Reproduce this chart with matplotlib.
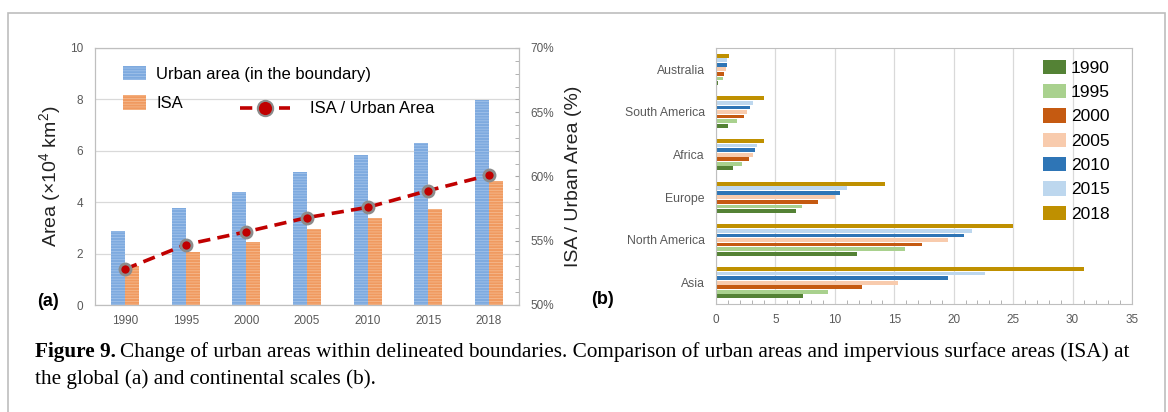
import matplotlib
matplotlib.use("Agg")
import matplotlib.pyplot as plt
import numpy as np
from matplotlib.patches import Patch, Rectangle
from matplotlib.lines import Line2D
from matplotlib.ticker import MultipleLocator, FuncFormatter

plt.rcParams['font.family'] = ['Liberation Sans', 'DejaVu Sans']
plt.rcParams['mathtext.fontset'] = 'custom'
plt.rcParams['mathtext.rm'] = 'Liberation Sans'
plt.rcParams['mathtext.it'] = 'Liberation Sans:italic'
plt.rcParams['mathtext.bf'] = 'Liberation Sans:bold'
plt.rcParams['hatch.linewidth'] = 0.5

# ---- (a) global urban area and ISA ----
years = ["1990", "1995", "2000", "2005", "2010", "2015", "2018"]
urban_area = [2.88, 3.76, 4.41, 5.19, 5.84, 6.32, 7.98]
isa_area = [1.52, 2.07, 2.46, 2.96, 3.37, 3.72, 4.82]
isa_ratio = [52.8, 54.7, 55.7, 56.8, 57.6, 58.9, 60.1]

# ---- (b) continental ISA ----
continents = ["Asia", "North America", "Europe", "Africa", "South America", "Australia"]
isa_1990 = [7.30, 11.84, 6.73, 1.46, 0.98, 0.20]
isa_1995 = [9.43, 15.90, 7.24, 2.21, 1.77, 0.62]
isa_2000 = [12.32, 17.37, 8.56, 2.80, 2.33, 0.70]
isa_2005 = [15.29, 19.50, 10.02, 3.11, 2.61, 0.82]
isa_2010 = [19.56, 20.90, 10.44, 3.31, 2.89, 0.90]
isa_2015 = [22.64, 21.52, 11.00, 3.42, 3.09, 0.95]
isa_2018 = [30.92, 25.03, 14.25, 4.07, 4.04, 1.12]

W, H = 1168, 412
fig = plt.figure(figsize=(W / 100, H / 100), dpi=100)

def px_axes(x0, y0, x1, y1):
    return fig.add_axes([x0 / W, (H - y1) / H, (x1 - x0) / W, (y1 - y0) / H])

# outer frame
fig.patches.append(Rectangle((8 / W, -0.1), (1165 - 8) / W, (H - 13) / H + 0.1,
                             transform=fig.transFigure, fill=False,
                             edgecolor='#bdbdbd', linewidth=1.2))

tick_gray = '#595959'
spine_gray = '#bfbfbf'
grid_gray = '#d9d9d9'

blue_face, blue_hatch = '#7eaadf', '#a7c6ec'
orange_face, orange_hatch = '#f09a60', '#f6bf96'

# ================= panel (a) =================
ax = px_axes(95, 48, 519, 305)
x = np.arange(len(years))
bw = 0.23
ax.bar(x - bw / 2, urban_area, bw, facecolor=blue_face, edgecolor=blue_hatch,
       hatch='------', linewidth=0, zorder=2)
ax.bar(x + bw / 2, isa_area, bw, facecolor=orange_face, edgecolor=orange_hatch,
       hatch='------', linewidth=0, zorder=2)
ax.set_xlim(-0.5, len(years) - 0.5)
ax.set_ylim(0, 10)
ax.set_yticks(range(0, 11, 2))
ax.set_xticks(x)
ax.set_xticklabels(years)
ax.tick_params(axis='both', length=0, labelsize=8.5, colors=tick_gray)
ax.tick_params(axis='x', pad=7)
ax.tick_params(axis='y', pad=8.5)
ax.grid(axis='y', color=grid_gray, linewidth=0.9, zorder=0)
for s in ax.spines.values():
    s.set_color(spine_gray)
ax.set_ylabel('Area (×10$^{4}$ km$^{2}$)', fontsize=14, color='#222222', labelpad=5)

ax2 = ax.twinx()
ax2.plot(x, isa_ratio, linestyle=(0, (3.4, 2.0)), color='#c00000', linewidth=2.6,
         marker='o', markersize=8, markerfacecolor='#c00000',
         markeredgecolor='#8c8c8c', markeredgewidth=2.0, zorder=5)
ax2.set_ylim(50, 70)
ax2.yaxis.set_major_locator(MultipleLocator(5))
ax2.yaxis.set_minor_locator(MultipleLocator(1))
ax2.yaxis.set_major_formatter(FuncFormatter(lambda v, p: f"{v:.0f}%"))
ax2.tick_params(axis='y', which='both', direction='in', length=3, color='#a6a6a6',
                labelsize=8.5, labelcolor=tick_gray, pad=8)
for s in ax2.spines.values():
    s.set_color(spine_gray)
ax2.set_ylabel('ISA / Urban Area (%)', fontsize=14, color='#222222', labelpad=8)

h_urban = Patch(facecolor=blue_face, edgecolor=blue_hatch, hatch='------', linewidth=0)
h_isa = Patch(facecolor=orange_face, edgecolor=orange_hatch, hatch='------', linewidth=0)
leg1 = ax2.legend([h_urban, h_isa], ['Urban area (in the boundary)', 'ISA'],
                  loc='upper left', bbox_to_anchor=(0.066, 0.93), frameon=False,
                  fontsize=12, handlelength=1.4, handleheight=0.95,
                  labelspacing=0.8, handletextpad=0.6, borderpad=0, borderaxespad=0)
ax2.add_artist(leg1)
h_line = Line2D([0], [0], linestyle=(0, (3.4, 2.0)), color='#c00000', linewidth=2.6,
                marker='o', markersize=11, markerfacecolor='#c00000',
                markeredgecolor='#8c8c8c', markeredgewidth=1.5)
ax2.legend([h_line], ['ISA / Urban Area'], loc='center left',
           bbox_to_anchor=(0.343, 0.763), frameon=False, fontsize=12,
           handlelength=3.0, handletextpad=1.2, borderpad=0, borderaxespad=0)

fig.text(48 / W, (H - 302) / H, '(a)', fontsize=13, fontweight='bold',
         ha='center', va='center')

# ================= panel (b) =================
bx = px_axes(716, 48, 1132, 304)
series = [isa_1990, isa_1995, isa_2000, isa_2005, isa_2010, isa_2015, isa_2018]
labels = years
colors = ['#548235', '#a9d18e', '#c55a11', '#f8cbad', '#2e75b6', '#bdd7ee', '#bf9000']
y = np.arange(len(continents))
step = 0.107
bh = 0.09
for i, (vals, col) in enumerate(zip(series, colors)):
    bx.barh(y + (i - 3) * step, vals, bh, color=col, label=labels[i], zorder=2)
bx.set_ylim(-0.5, len(continents) - 0.5)
bx.set_xlim(0, 35)
bx.set_yticks(y)
bx.set_yticklabels(continents)
bx.xaxis.set_major_locator(MultipleLocator(5))
bx.xaxis.set_minor_locator(MultipleLocator(1))
bx.tick_params(axis='x', which='both', direction='in', length=3, color='#a6a6a6',
               labelsize=8.5, labelcolor=tick_gray, pad=7)
bx.tick_params(axis='x', which='major', length=0)
bx.tick_params(axis='y', length=0, labelsize=8.8, labelcolor=tick_gray, pad=8)
bx.grid(axis='x', color=grid_gray, linewidth=0.9, zorder=0)
for s in bx.spines.values():
    s.set_color(spine_gray)
bx.legend(loc='upper left', bbox_to_anchor=(0.785, 0.955), frameon=False,
          fontsize=12.5, handlelength=1.33, handleheight=0.9, labelspacing=0.47,
          handletextpad=0.3, borderpad=0, borderaxespad=0)

fig.text(602 / W, (H - 300) / H, '(b)', fontsize=13, fontweight='bold',
         ha='center', va='center')

# ================= caption =================
cap_size = 15.3
serif = ['Liberation Serif', 'DejaVu Serif']
t_bold = fig.text(35 / W, (H - 357) / H, 'Figure 9.', fontsize=cap_size,
                  fontweight='bold', family=serif, va='baseline')
fig.canvas.draw()
bb = t_bold.get_window_extent(renderer=fig.canvas.get_renderer())
fig.text((bb.x1 + 4) / W, (H - 357) / H,
         'Change of urban areas within delineated boundaries. Comparison of urban areas '
         'and impervious surface areas (ISA) at', fontsize=cap_size, family=serif,
         va='baseline')
fig.text(35 / W, (H - 384) / H, 'the global (a) and continental scales (b).',
         fontsize=cap_size, family=serif, va='baseline')

fig.savefig('out.png', dpi=100)
